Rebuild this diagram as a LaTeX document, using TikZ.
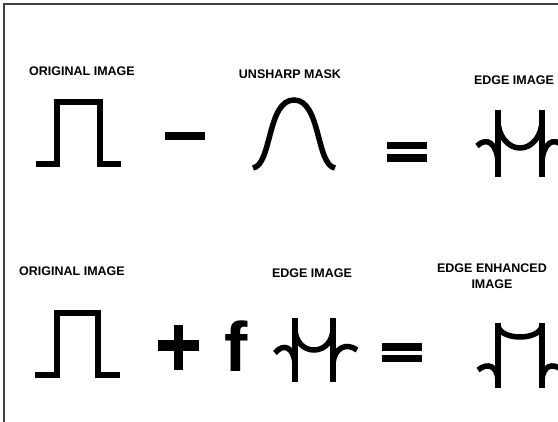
\documentclass[tikz,border=0pt]{standalone}
\usepackage{fontspec}
\setmainfont{Liberation Sans}

\begin{document}
\begin{tikzpicture}[x=1pt, y=-1pt,
    lbl/.style={font=\fontsize{12.5}{16}\selectfont\bfseries, inner sep=0pt, align=center},
    sig/.style={line width=5.5pt, line join=miter},
    opbar/.style={fill=black, draw=none}
]
    % Page and frame
    \useasboundingbox (0,0) rectangle (558,422);
    \clip (0,0) rectangle (558,422);
    \draw[black!75, line width=1.3pt] (4,422) -- (4,4) -- (558,4);

    % Labels
    \node[lbl] (orig1) at (82,71) {ORIGINAL IMAGE};
    \node[lbl] (mask) at (290,74) {UNSHARP MASK};
    \node[lbl] (edge1) at (514,80) {EDGE IMAGE};
    \node[lbl] (orig2) at (72,271) {ORIGINAL IMAGE};
    \node[lbl] (edge2) at (312,273) {EDGE IMAGE};
    \node[lbl] (enh) at (492,276) {EDGE ENHANCED\\IMAGE};
    \node[font=\fontsize{70}{70}\selectfont\bfseries, inner sep=0pt, anchor=base] (gain) at (236,372) {f};

    % Top row: original - mask = edge
    \draw[sig] (36,164) -- (57,164) -- (57,102) -- (100,102) -- (100,164) -- (121,164);
    \fill[opbar] (165,132) rectangle (205,140);
    \draw[sig] (253,168) .. controls (272,165) and (267,100) .. (294,100)
               .. controls (321,100) and (316,165) .. (335,168);
    \fill[opbar] (387,142) rectangle (427,149);
    \fill[opbar] (387,154) rectangle (427,162);
    \draw[sig] (498,110) -- (498,177);
    \draw[sig] (542,110) -- (542,177);
    \draw[sig] (498,120) .. controls (498,136) and (508,148) .. (520,148)
               .. controls (532,148) and (542,136) .. (542,120);
    \draw[sig] (477,146) .. controls (487,136) and (497,144) .. (498,162);
    \draw[sig] (542,162) .. controls (543,144) and (553,136) .. (563,146);

    % Bottom row: original + f edge = enhanced
    \draw[sig] (35,375) -- (57,375) -- (57,313) -- (98,313) -- (98,375) -- (120,375);
    \fill[opbar] (158,340) rectangle (199,351);
    \fill[opbar] (174,325) rectangle (183,370);
    \draw[sig] (295,318) -- (295,382);
    \draw[sig] (333,318) -- (333,382);
    \draw[sig] (295,328) .. controls (295,341) and (303,350) .. (314,350)
               .. controls (325,350) and (333,341) .. (333,328);
    \draw[sig] (275,353) .. controls (284,342) and (294,348) .. (295,364);
    \draw[sig] (333,364) .. controls (334,348) and (346,342) .. (357,350);
    \fill[opbar] (382,343) rectangle (422,351);
    \fill[opbar] (382,355) rectangle (422,362);
    \draw[sig] (498,323) -- (498,388);
    \draw[sig] (542,323) -- (542,388);
    \draw[sig] (498,325) .. controls (498,332) and (508,337) .. (520,337)
               .. controls (532,337) and (542,332) .. (542,325);
    \draw[sig] (478,370) .. controls (488,362) and (497,366) .. (498,380);
    \draw[sig] (542,380) .. controls (543,366) and (552,362) .. (562,370);
\end{tikzpicture}
\end{document}
